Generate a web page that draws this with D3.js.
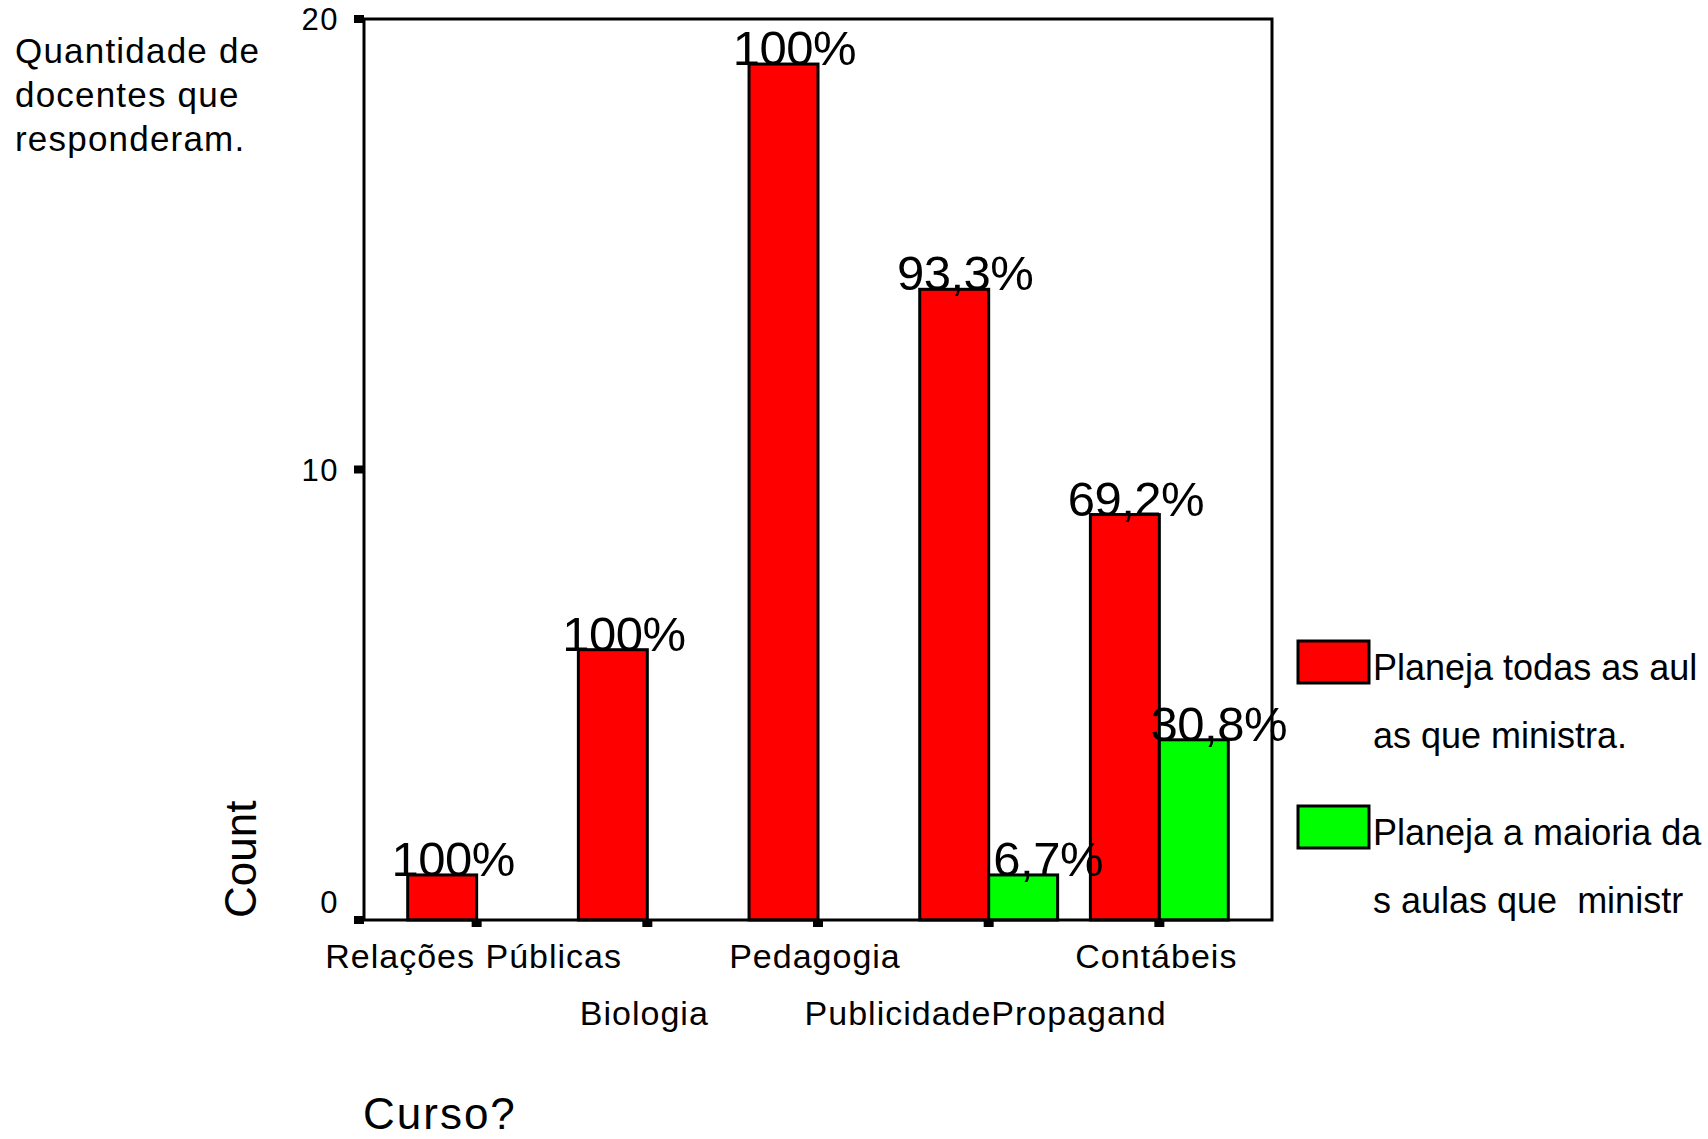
<!DOCTYPE html>
<html>
<head>
<meta charset="utf-8">
<script src="https://cdn.jsdelivr.net/npm/d3@7"></script>
<style>
  html, body { margin: 0; padding: 0; background: #fff; }
  svg { display: block; font-family: "Liberation Sans", Arial, Helvetica, sans-serif; }
  .pre { white-space: pre; }
</style>
</head>
<body>
<svg id="chart" width="1708" height="1139"></svg>
<script>
// ---- data ----
const categories = ["Relações Públicas", "Biologia", "Pedagogia", "PublicidadePropagand", "Contábeis"];
const seriesNames = ["Planeja todas as aulas que ministra.", "Planeja a maioria das aulas que  ministr"];
const legendLines = [["Planeja todas as aul", "as que ministra."], ["Planeja a maioria da", "s aulas que  ministr"]];
const todasCounts = [1, 6, 19, 14, 9];
const maioriaCounts = [0, 0, 0, 1, 4];
const todasLabels = ["100%", "100%", "100%", "93,3%", "69,2%"];
const maioriaLabels = ["", "", "", "6,7%", "30,8%"];
const yTicks = [0, 10, 20];
const titleLines = ["Quantidade de", "docentes que", "responderam."];
const colors = ["#ff0000", "#00ff00"];

// ---- layout ----
const svg = d3.select("#chart");
const plotL = 364, plotR = 1272, plotT = 19, plotB = 920;

const y = d3.scaleLinear().domain([0, 20]).range([plotB, plotT]);
const x = d3.scalePoint().domain(categories).range([plotL, plotR]).padding(0.66);
const barW = x.step() * 0.404;

// series table
const series = [todasCounts, maioriaCounts];
const labels = [todasLabels, maioriaLabels];
const bars = [];
categories.forEach((c, i) => {
  series.forEach((s, k) => {
    if (s[i] > 0) bars.push({cat: c, k, v: s[i], label: labels[k][i]});
  });
});

// bars
svg.append("g").selectAll("rect").data(bars).join("rect")
  .attr("x", d => d.k === 0 ? x(d.cat) - barW : x(d.cat))
  .attr("y", d => y(d.v))
  .attr("width", barW)
  .attr("height", d => y(0) - y(d.v))
  .attr("fill", d => colors[d.k])
  .attr("stroke", "#000")
  .attr("stroke-width", 3);

// frame
svg.append("rect")
  .attr("x", plotL).attr("y", plotT)
  .attr("width", plotR - plotL).attr("height", plotB - plotT)
  .attr("fill", "none").attr("stroke", "#000").attr("stroke-width", 3);

// y axis ticks
const yAxis = svg.append("g");
yAxis.selectAll("rect").data(yTicks).join("rect")
  .attr("x", plotL - 10).attr("y", d => y(d) - 4)
  .attr("width", 10).attr("height", 8).attr("fill", "#000");
yAxis.selectAll("text").data(yTicks).join("text")
  .attr("x", 339)
  .attr("y", d => d === 0 ? y(d) - 18 : y(d))
  .attr("dy", "0.36em")
  .attr("text-anchor", "end")
  .attr("font-size", 31)
  .attr("letter-spacing", 1.5)
  .text(d => d);

// x axis ticks & labels
const xAxis = svg.append("g");
xAxis.selectAll("rect").data(categories).join("rect")
  .attr("x", d => x(d) - 5).attr("y", plotB)
  .attr("width", 10).attr("height", 7).attr("fill", "#000");
xAxis.selectAll("text").data(categories).join("text")
  .attr("x", d => x(d) - 3)
  .attr("y", (d, i) => i % 2 === 0 ? 968 : 1025)
  .attr("text-anchor", "middle")
  .attr("font-size", 34)
  .attr("letter-spacing", 1)
  .text(d => d);

// value labels
svg.append("g").selectAll("text").data(bars).join("text")
  .attr("x", d => d.k === 0 ? x(d.cat) - barW / 2 + 11 : x(d.cat) + barW / 2 + 25)
  .attr("y", d => y(d.v) + 1)
  .attr("text-anchor", "middle")
  .attr("font-size", 49)
  .attr("letter-spacing", -0.5)
  .text(d => d.label);

// title
svg.append("text")
  .attr("font-size", 35).attr("letter-spacing", 1.2)
  .selectAll("tspan").data(titleLines).join("tspan")
  .attr("x", 15).attr("y", (d, i) => 63 + i * 44)
  .text(d => d);

// axis titles
svg.append("text")
  .attr("transform", "translate(256,918) rotate(-90)")
  .attr("font-size", 44)
  .text("Count");
svg.append("text")
  .attr("x", 363).attr("y", 1129)
  .attr("font-size", 44).attr("letter-spacing", 2)
  .text("Curso?");

// legend
const legend = svg.append("g");
const lg = legend.selectAll("g").data(seriesNames).join("g")
  .attr("transform", (d, i) => `translate(1298,${641 + i * 165})`);
lg.append("rect")
  .attr("width", 71).attr("height", 42)
  .attr("fill", (d, i) => colors[i])
  .attr("stroke", "#000").attr("stroke-width", 3);
lg.append("text")
  .attr("class", "pre")
  .attr("font-size", 36)
  .selectAll("tspan").data((d, i) => legendLines[i]).join("tspan")
  .attr("x", 75).attr("y", (d, j) => 39 + j * 68)
  .text(d => d);
</script>
</body>
</html>
